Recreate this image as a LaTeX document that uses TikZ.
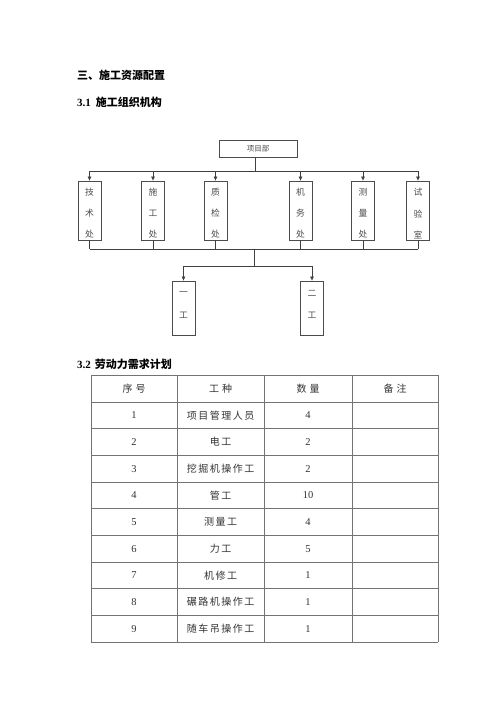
\documentclass[tikz,border=0pt]{standalone}
\usepackage{fontspec}
\setmainfont{Liberation Serif}
\newfontfamily\cjk{Noto Sans CJK SC}
\usetikzlibrary{arrows.meta}
\begin{document}
\begin{tikzpicture}[x=1pt,y=-1pt,
  orgline/.style={draw=black!75,line width=0.7pt},
  orgarrow/.style={orgline,-{Triangle[length=4pt,width=3.5pt]}},
  orgbox/.style={draw=black!70,line width=0.8pt,minimum width=23pt,minimum height=59pt,inner sep=0pt},
  workbox/.style={draw=black!70,line width=0.8pt,minimum width=23pt,minimum height=54pt,inner sep=0pt},
  boxtxt/.style={font=\cjk\fontsize{8.8}{8.8}\selectfont,text=black!70,inner sep=0pt},
  headtxt/.style={font=\bfseries\fontsize{11}{11}\selectfont,anchor=west,inner sep=0pt},
  tabline/.style={draw=black!55,line width=0.6pt},
  celltxt/.style={font=\cjk\fontsize{10}{10}\selectfont,text=black!80,inner sep=0pt},
  numtxt/.style={font=\fontsize{10.5}{10.5}\selectfont,text=black!80,inner sep=0pt}]
\useasboundingbox (0,0) rectangle (500,707);
\fill[white] (0,0) rectangle (500,707);
% headings
\node[headtxt] (h1) at (77,75) {{\cjk 三、施工资源配置}};
\node[headtxt] (h2) at (77,102) {3.1\hspace{5pt}{\cjk 施工组织机构}};
\node[headtxt] (h3) at (77,364) {3.2\hspace{4pt}{\cjk 劳动力需求计划}};
% org chart
\node[draw=black!70,line width=0.8pt,minimum width=78pt,minimum height=17pt,inner sep=0pt,
      font=\cjk\fontsize{7.5}{7.5}\selectfont,text=black!70] (top) at (258,149) {项目部};
\node[orgbox] (b1) at (89.5,210.5) {};
\node[orgbox] (b2) at (153,210.5) {};
\node[orgbox] (b3) at (215.5,210.5) {};
\node[orgbox] (b4) at (300.5,210.5) {};
\node[orgbox] (b5) at (363,210.5) {};
\node[orgbox] (b6) at (418,210.5) {};
\foreach \b/\a/\c/\d in {b1/技/术/处,b2/施/工/处,b3/质/检/处,b4/机/务/处,b5/测/量/处,b6/试/验/室}{
  \node[boxtxt] at ([yshift=-12pt]\b.north) {\a};
  \node[boxtxt] at ([yshift=-33pt]\b.north) {\c};
  \node[boxtxt] at ([yshift=-54pt]\b.north) {\d};
}
\coordinate (t1) at (255,171);
\draw[orgline] (top.south -| t1) -- (t1);
\draw[orgline] (b1.north |- t1) -- (b6.north |- t1);
\foreach \b in {b1,b2,b3,b4,b5,b6}{\draw[orgarrow] (\b.north |- t1) -- (\b.north);}
\coordinate (t2) at (254,249);
\draw[orgline] (b1.south |- t2) -- (b6.south |- t2);
\foreach \b in {b1,b2,b3,b4,b5,b6}{\draw[orgline] (\b.south) -- (\b.south |- t2);}
\node[workbox] (w1) at (183.5,308) {};
\node[workbox] (w2) at (312,308) {};
\node[boxtxt] at ([yshift=-13pt]w1.north) {一};
\node[boxtxt] at ([yshift=-35pt]w1.north) {工};
\node[boxtxt] at ([yshift=-13pt]w2.north) {二};
\node[boxtxt] at ([yshift=-35pt]w2.north) {工};
\coordinate (t3) at (254,266);
\draw[orgline] (t2) -- (t3);
\draw[orgline] (w1.north |- t3) -- (w2.north |- t3);
\draw[orgarrow] (w1.north |- t3) -- (w1.north);
\draw[orgarrow] (w2.north |- t3) -- (w2.north);
% table
\foreach \y in {375,402,428.7,455.3,482,508.7,535.3,562,588.7,615.3,642}{\draw[tabline] (91,\y) -- (438,\y);}
\foreach \x in {91,177,264,352,438}{\draw[tabline] (\x,375) -- (\x,642);}
\node[celltxt] (c01) at (134,388.5) {序\hspace{3pt}号};
\node[celltxt] (c02) at (220.5,388.5) {工\hspace{3pt}种};
\node[celltxt] (c03) at (308,388.5) {数\hspace{3pt}量};
\node[celltxt] (c04) at (395,388.5) {备\hspace{3pt}注};
\foreach \i/\w/\n [count=\k] in {1/项\hspace{1.5pt}目\hspace{1.5pt}管\hspace{1.5pt}理\hspace{1.5pt}人\hspace{1.5pt}员/4,
  2/电\hspace{1.5pt}工/2,
  3/挖\hspace{1.5pt}掘\hspace{1.5pt}机\hspace{1.5pt}操\hspace{1.5pt}作\hspace{1.5pt}工/2,
  4/管\hspace{1.5pt}工/10,
  5/测\hspace{1.5pt}量\hspace{1.5pt}工/4,
  6/力\hspace{1.5pt}工/5,
  7/机\hspace{1.5pt}修\hspace{1.5pt}工/1,
  8/碾\hspace{1.5pt}路\hspace{1.5pt}机\hspace{1.5pt}操\hspace{1.5pt}作\hspace{1.5pt}工/1,
  9/随\hspace{1.5pt}车\hspace{1.5pt}吊\hspace{1.5pt}操\hspace{1.5pt}作\hspace{1.5pt}工/1}{
  \node[numtxt] (r\k a) at (134,388.5+26.7*\k) {\i};
  \node[celltxt] (r\k b) at (220.5,388.5+26.7*\k) {\w};
  \node[numtxt] (r\k c) at (308,388.5+26.7*\k) {\n};
}
\end{tikzpicture}
\end{document}
